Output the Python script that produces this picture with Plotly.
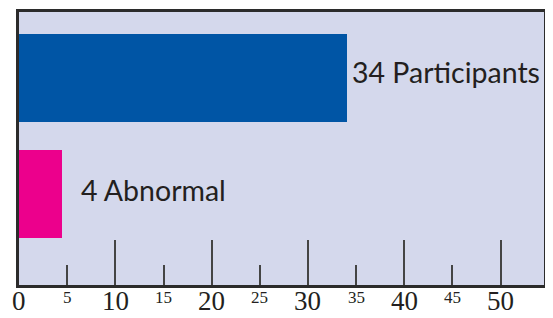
import plotly.graph_objects as go

# Data
categories = ["Abnormal", "Participants"]
counts = [4, 34]                 # numbers printed in the labels
bar_lengths = [4.5, 34]          # bar ends as read against the axis
bar_colors = ["#EC008C", "#0055A5"]
major_ticks = [0, 10, 20, 30, 40, 50]
minor_ticks = [5, 15, 25, 35, 45]

ypos = list(range(len(categories)))

fig = go.Figure()
fig.add_trace(go.Bar(
    x=bar_lengths, y=ypos, orientation="h",
    marker=dict(color=bar_colors, line=dict(width=0)),
    width=0.76, hoverinfo="skip",
))

label_shift = [17, 3]
label_yshift = [4, 6]
for i, (c, n) in enumerate(zip(categories, counts)):
    fig.add_annotation(
        x=bar_lengths[i], y=ypos[i], text="%d %s" % (n, c),
        xanchor="left", yanchor="middle", showarrow=False,
        xshift=label_shift[i], yshift=label_yshift[i],
        font=dict(family="Lato", size=28.5, color="#231F20"),
    )

# tick labels: large for major ticks, small for minor ticks
for v in major_ticks:
    fig.add_annotation(
        x=v, xref="x", y=0, yref="paper", text=str(v),
        xanchor="center", yanchor="top", showarrow=False,
        yshift=1, font=dict(family="Liberation Serif", size=27, color="#231F20"),
    )
for v in minor_ticks:
    fig.add_annotation(
        x=v, xref="x", y=0, yref="paper", text=str(v),
        xanchor="center", yanchor="top", showarrow=False,
        yshift=-1, font=dict(family="Liberation Serif", size=17, color="#231F20"),
    )

# the page adds an 8px body margin, so the figure is 8px smaller each way
fig.update_layout(
    width=545, height=310,
    margin=dict(l=11, r=9, t=4, b=33, autoexpand=False),
    paper_bgcolor="white", plot_bgcolor="#D4D8EC",
    showlegend=False,
    bargap=0,
)
fig.update_xaxes(
    range=[0, 54.5], showgrid=False, zeroline=False, automargin=False,
    showline=True, mirror=True, linecolor="#2B2B2B", linewidth=2.5,
    tickmode="array", tickvals=major_ticks, showticklabels=False,
    ticks="inside", ticklen=45, tickwidth=1.5, tickcolor="#444444",
    minor=dict(tickvals=minor_ticks, ticks="inside", ticklen=20, tickwidth=1.5, tickcolor="#444444"),
)
fig.update_yaxes(
    range=[-0.784, 1.565], showgrid=False, zeroline=False, automargin=False,
    showline=True, mirror=True, linecolor="#2B2B2B", linewidth=2.5,
    showticklabels=False, ticks="",
)

fig.write_html("out.html")
